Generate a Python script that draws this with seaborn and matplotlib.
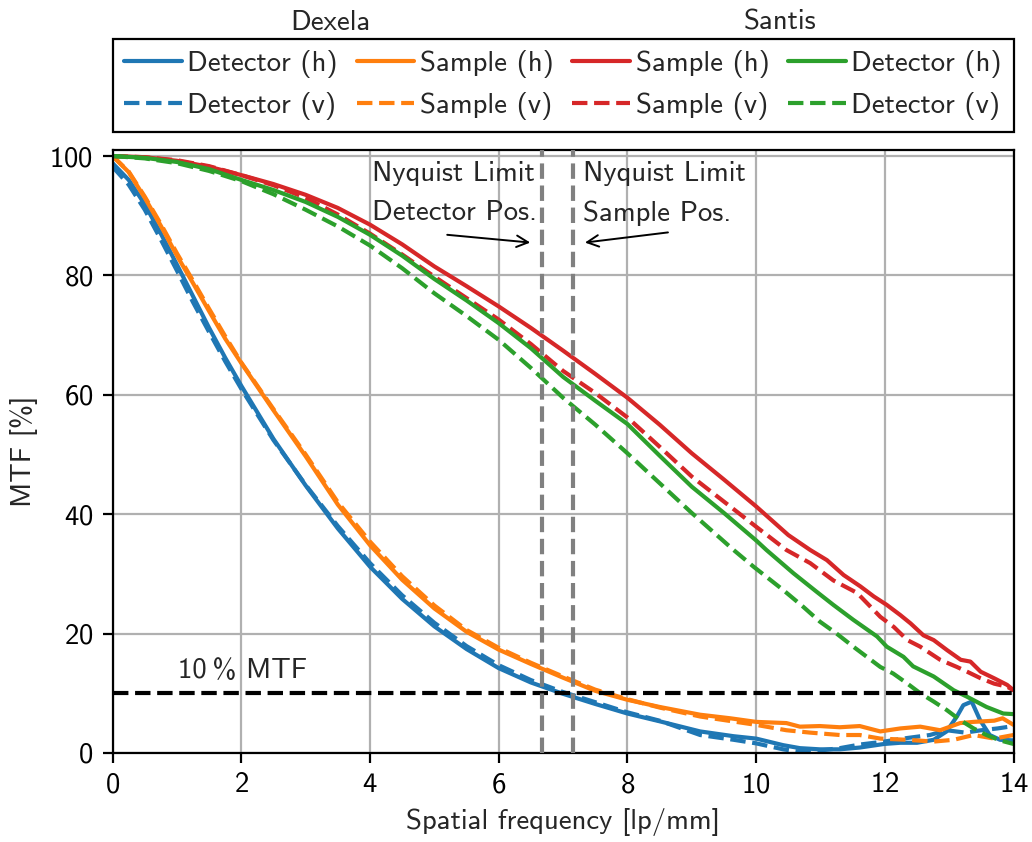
import matplotlib
matplotlib.use("Agg")
import matplotlib.pyplot as plt
import seaborn as sns

# ---------------- data: MTF [%] vs spatial frequency [lp/mm] ----------------
# Dexela, detector position
dex_det_h_f = [0, 0.25, 0.5, 0.75, 1, 1.25, 1.5, 1.75, 2, 2.5, 3, 3.5, 4, 4.5, 5, 5.5,
               6, 6.5, 7, 7.5, 8, 8.5, 9.13, 9.65, 10, 10.42, 10.68, 10.99, 11.3, 11.61,
               11.99, 12.24, 12.5, 12.76, 12.96, 13.12, 13.22, 13.35, 13.48, 13.63, 13.79, 14]
dex_det_h_mtf = [98.8, 96.0, 91.9, 87.0, 81.8, 76.5, 71.2, 66.2, 61.5, 52.6, 44.8, 37.6, 31.2,
                 25.8, 21.2, 17.4, 14.2, 11.8, 9.9, 8.2, 6.6, 5.3, 3.6, 2.8, 2.4, 1.3, 0.8, 0.6,
                 0.6, 0.9, 1.5, 1.7, 1.7, 2.2, 3.6, 6.1, 8.0, 8.6, 5.5, 3.0, 2.2, 2.1]

dex_det_v_f = [0, 0.25, 0.5, 0.75, 1, 1.25, 1.5, 1.75, 2, 2.5, 3, 3.5, 4, 4.5, 5, 5.5,
               6, 6.5, 7, 7.5, 8, 8.5, 9.13, 9.65, 10, 10.42, 10.68, 10.99, 11.3, 11.61,
               11.99, 12.35, 12.7, 12.96, 13.25, 13.5, 13.75, 14]
dex_det_v_mtf = [98.2, 95.2, 91.0, 86.0, 80.8, 75.5, 70.5, 65.6, 61.0, 52.4, 44.9, 38.0, 31.8,
                 26.4, 21.8, 17.9, 14.7, 12.2, 10.2, 8.5, 6.8, 5.4, 3.0, 2.2, 1.6, 0.6, 0.2, 0.4,
                 0.8, 1.4, 1.9, 2.5, 3.0, 3.8, 3.4, 3.8, 4.1, 4.5]

# Dexela, sample position
dex_smp_h_f = [0, 0.25, 0.5, 0.75, 1, 1.25, 1.5, 1.75, 2, 2.5, 3, 3.5, 4, 4.5, 5, 5.5,
               6, 6.5, 7, 7.5, 8, 8.5, 9.13, 9.6, 10, 10.47, 10.68, 10.99, 11.3, 11.61,
               11.93, 12.24, 12.55, 12.86, 13.17, 13.38, 13.7, 13.83, 14]
dex_smp_h_mtf = [100.0, 97.3, 93.0, 88.3, 83.3, 78.7, 74.0, 69.4, 65.3, 57.4, 49.7, 41.6, 34.8,
                 29.0, 24.2, 20.3, 17.3, 14.9, 12.6, 10.4, 8.9, 7.7, 6.4, 5.8, 5.2, 5.0, 4.4,
                 4.5, 4.3, 4.5, 3.6, 4.1, 4.4, 3.8, 5.0, 5.2, 5.4, 5.8, 4.7]

dex_smp_v_f = [0, 0.25, 0.5, 0.75, 1, 1.25, 1.5, 1.75, 2, 2.5, 3, 3.5, 4, 4.5, 5, 5.5,
               6, 6.5, 7, 7.5, 8, 8.5, 9.13, 10, 10.47, 10.84, 11.3, 11.61, 11.93, 12.34,
               12.76, 13.07, 13.38, 13.7, 14]
dex_smp_v_mtf = [100.0, 97.4, 93.2, 88.6, 83.7, 79.1, 74.4, 69.8, 65.4, 57.6, 50.0, 42.0, 35.4,
                 29.6, 24.7, 20.6, 17.6, 15.1, 12.8, 10.6, 9.0, 7.6, 6.1, 4.7, 3.8, 3.4, 3.0,
                 3.0, 2.4, 2.2, 1.9, 2.2, 3.0, 2.4, 3.0]

# Santis, sample position
san_smp_h_f = [0, 0.5, 1, 1.5, 2, 2.5, 3, 3.5, 4, 4.5, 5, 5.5, 6, 6.5, 7, 7.5, 8, 8.5, 9,
               9.5, 10, 10.5, 10.84, 11.1, 11.36, 11.62, 11.83, 12.03, 12.24, 12.4, 12.6,
               12.76, 12.97, 13.18, 13.33, 13.49, 13.7, 13.9, 14]
san_smp_h_mtf = [100.0, 99.8, 99.2, 98.2, 96.8, 95.3, 93.5, 91.3, 88.5, 85.2, 81.5, 78.2, 74.8,
                 71.2, 67.4, 63.5, 59.5, 55.0, 50.2, 45.8, 41.3, 36.5, 34.0, 32.3, 29.8, 27.9,
                 26.2, 24.8, 23.1, 21.7, 19.7, 18.9, 17.2, 15.6, 15.3, 13.6, 12.5, 11.4, 10.5]

san_smp_v_f = [0, 0.5, 1, 1.5, 2, 2.5, 3, 3.5, 4, 4.5, 5, 5.5, 6, 6.5, 7, 7.5, 8, 8.5, 9,
               9.5, 10, 10.47, 10.84, 11.2, 11.57, 11.93, 12.14, 12.35, 12.55, 12.86, 13.12,
               13.28, 13.49, 13.7, 13.9, 14]
san_smp_v_mtf = [100.0, 99.8, 99.3, 98.3, 96.8, 95.1, 93.0, 90.2, 87.0, 83.5, 79.8, 76.2, 72.6,
                 68.5, 64.0, 60.3, 56.2, 51.3, 46.3, 42.1, 37.9, 34.0, 31.8, 28.9, 26.8, 22.8,
                 21.1, 18.9, 17.8, 15.6, 14.4, 13.6, 12.5, 11.6, 11.1, 10.5]

# Santis, detector position
san_det_h_f = [0, 0.5, 1, 1.5, 2, 2.5, 3, 3.5, 4, 4.5, 5, 5.5, 6, 6.5, 7, 7.5, 8, 8.5, 9,
               9.5, 10, 10.16, 10.58, 10.94, 11.2, 11.51, 11.88, 12.03, 12.29, 12.44, 12.76,
               13.07, 13.28, 13.58, 13.84, 14]
san_det_h_mtf = [100.0, 99.7, 99.0, 97.8, 96.0, 94.3, 92.3, 89.8, 86.8, 83.3, 79.4, 75.8, 72.0,
                 67.8, 63.0, 59.0, 55.1, 49.8, 44.6, 40.2, 35.6, 34.0, 30.1, 27.0, 24.8, 22.3,
                 19.5, 17.8, 16.1, 14.5, 12.8, 10.5, 9.4, 7.7, 6.6, 6.5]

san_det_v_f = [0, 0.5, 1, 1.5, 2, 2.5, 3, 3.5, 4, 4.5, 5, 5.5, 6, 6.5, 7, 7.5, 8, 8.5, 9,
               9.65, 9.96, 10.42, 10.73, 10.99, 11.25, 11.51, 11.72, 11.93, 12.13, 12.34,
               12.55, 12.76, 12.96, 13.17, 13.38, 13.58, 13.79, 14]
san_det_v_mtf = [100.0, 99.6, 98.8, 97.5, 95.8, 93.6, 91.0, 88.2, 85.0, 81.2, 77.0, 73.2, 69.2,
                 64.5, 59.5, 55.0, 50.2, 45.2, 40.2, 34.0, 31.2, 27.3, 24.5, 22.0, 20.0, 17.8,
                 16.1, 14.4, 13.3, 11.7, 10.0, 8.6, 7.2, 5.5, 4.1, 3.0, 2.1, 1.5]

nyquist_limits = [6.67, 7.15]
mtf_threshold = 10
x_ticks = [0, 2, 4, 6, 8, 10, 12, 14]
y_ticks = [0, 20, 40, 60, 80, 100]

# ---------------- style ----------------
sns.set_style("white")
plt.rcParams.update({
    "font.family": ["cmss10", "DejaVu Sans"],
    "font.size": 10.35,
    "axes.formatter.use_mathtext": True,
    "axes.unicode_minus": False,
    "axes.linewidth": 0.8,
    "axes.edgecolor": "black",
    "xtick.color": "black",
    "ytick.color": "black",
    "xtick.major.size": 3.5,
    "ytick.major.size": 3.5,
    "xtick.major.width": 0.8,
    "ytick.major.width": 0.8,
    "xtick.bottom": True,
    "ytick.left": True,
})

BLUE, ORANGE, RED, GREEN = "#1f77b4", "#ff7f0e", "#d62728", "#2ca02c"
LW = 1.5

fig = plt.figure(figsize=(5.16, 4.21), dpi=200)
ax = fig.add_axes([0.1091, 0.1058, 0.8730, 0.7160])

series = [
    (dex_det_h_f, dex_det_h_mtf, BLUE, "-", "Detector (h)"),
    (dex_det_v_f, dex_det_v_mtf, BLUE, "--", "Detector (v)"),
    (dex_smp_h_f, dex_smp_h_mtf, ORANGE, "-", "Sample (h)"),
    (dex_smp_v_f, dex_smp_v_mtf, ORANGE, "--", "Sample (v)"),
    (san_smp_h_f, san_smp_h_mtf, RED, "-", "Sample (h)"),
    (san_smp_v_f, san_smp_v_mtf, RED, "--", "Sample (v)"),
    (san_det_h_f, san_det_h_mtf, GREEN, "-", "Detector (h)"),
    (san_det_v_f, san_det_v_mtf, GREEN, "--", "Detector (v)"),
]
for f, m, c, ls, lab in series:
    sns.lineplot(x=f, y=m, ax=ax, color=c, linestyle=ls, linewidth=LW, label=lab,
                 sort=False, estimator=None)

# 10 % MTF threshold
ax.axhline(mtf_threshold, color="black", linestyle="--", linewidth=1.5, zorder=3)
ax.text(1.02, mtf_threshold + 2.5, "10\u2009% MTF", ha="left", va="baseline")

# Nyquist limits
for nq in nyquist_limits:
    ax.axvline(nq, color="gray", linestyle="--", linewidth=1.5, zorder=3)

ax.text(4.03, 99.2, "Nyquist Limit\nDetector Pos.", ha="left", va="top", linespacing=1.72)
ax.text(7.31, 99.2, "Nyquist Limit\nSample Pos.", ha="left", va="top", linespacing=1.72)
arrow = dict(arrowstyle="->", color="black", lw=0.7, shrinkA=0, shrinkB=0)
ax.annotate("", xy=(6.49, 85.5), xytext=(5.20, 86.8), arrowprops=arrow)
ax.annotate("", xy=(7.34, 85.5), xytext=(8.63, 87.2), arrowprops=arrow)

ax.set_xlim(0, 14)
ax.set_ylim(0, 101)
ax.set_xticks(x_ticks)
ax.set_yticks(y_ticks)
ax.grid(True, color="#b0b0b0", linewidth=0.8)
ax.set_axisbelow(True)
for s in ax.spines.values():
    s.set_visible(True)
    s.set_color("black")
    s.set_linewidth(0.8)
ax.set_xlabel("Spatial frequency [lp/mm]")
ax.set_ylabel("MTF [%]")

leg = ax.legend(ncol=4, loc="lower left", bbox_to_anchor=(0, 1.03, 1, 0.1), mode="expand",
                borderaxespad=0, handlelength=2.0, handletextpad=0.2, columnspacing=0.4,
                fancybox=False, framealpha=1, edgecolor="black")
leg.get_frame().set_linewidth(0.8)

fig.text(330 / 1032, 1 - 30 / 842, "Dexela", ha="center", va="baseline")
fig.text(780 / 1032, 1 - 30 / 842, "Santis", ha="center", va="baseline")

fig.savefig("out.png", dpi=200)
